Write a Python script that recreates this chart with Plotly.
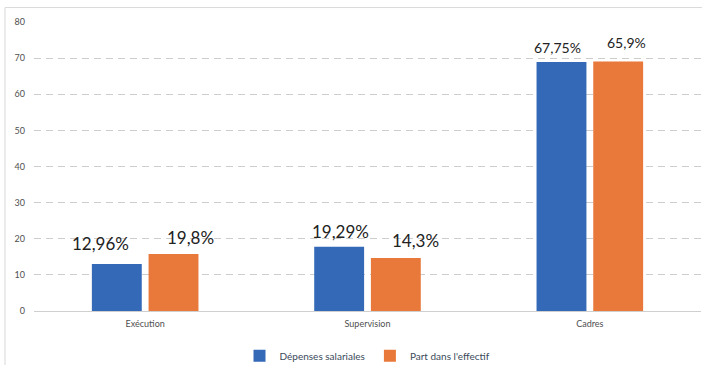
import plotly.graph_objects as go

categories = ["Exécution", "Supervision", "Cadres"]
series_names = ["Dépenses salariales", "Part dans l'effectif"]
depenses = [13.0, 17.8, 68.9]
effectif = [15.8, 14.7, 69.1]
depenses_labels = ["12,96%", "19,29%", "67,75%"]
effectif_labels = ["19,8%", "14,3%", "65,9%"]
y_ticks = [0, 10, 20, 30, 40, 50, 60, 70, 80]

colors = ["#3469b8", "#e8793a"]
font_family = "Lato, 'Open Sans', sans-serif"

fig = go.Figure()
fig.add_trace(go.Bar(x=categories, y=depenses, name=series_names[0],
                     marker=dict(color=colors[0], line=dict(width=0)),
                     offsetgroup="a"))
fig.add_trace(go.Bar(x=categories, y=effectif, name=series_names[1],
                     marker=dict(color=colors[1], line=dict(width=0)),
                     offsetgroup="b"))

# label placement (style)
dep_shift = [(-13, 21, 17), (5, 15, 17), (0, 15, 14)]
eff_shift = [(13, 16, 17), (16, 17, 17), (5, 19, 14)]
bar_offset_px = 32  # half distance between bar centers

annotations = []
for i, c in enumerate(categories):
    xs, ys, fs = dep_shift[i]
    annotations.append(dict(x=c, y=depenses[i], text=depenses_labels[i], showarrow=False,
                            xref="x", yref="y", xshift=-bar_offset_px + xs, yshift=ys,
                            font=dict(size=fs, color="#222222", family=font_family)))
    xs, ys, fs = eff_shift[i]
    annotations.append(dict(x=c, y=effectif[i], text=effectif_labels[i], showarrow=False,
                            xref="x", yref="y", xshift=bar_offset_px + xs, yshift=ys,
                            font=dict(size=fs, color="#222222", family=font_family)))

fig.update_layout(
    width=702, height=365,
    margin=dict(l=34, r=1, t=22, b=54, autoexpand=False),
    paper_bgcolor="white", plot_bgcolor="white",
    barmode="group", bargap=0.49, bargroupgap=0.12,
    font=dict(family=font_family, color="#595959", size=9),
    showlegend=True,
    legend=dict(orientation="h", x=0.5, xanchor="center", y=-0.105, yanchor="top",
                font=dict(size=10, color="#3a4a5a"), itemwidth=30,
                traceorder="normal", tracegroupgap=0),
    annotations=annotations,
    xaxis=dict(showgrid=False, showline=True, linecolor="#cfcfcf", linewidth=1,
               tickfont=dict(size=9, color="#4f4f4f"), ticks="", fixedrange=True,
               ticklabelstandoff=4),
    yaxis=dict(range=[0, 80], tickvals=y_ticks, showgrid=True, gridcolor="#cdcdcd",
               griddash="7px,5px", gridwidth=1, zeroline=False, showline=False,
               ticks="", ticklabelstandoff=8,
               tickfont=dict(size=9, color="#4f4f4f")),
    shapes=[dict(type="rect", xref="paper", yref="paper",
                 x0=-0.0435, x1=1.02, y0=-0.3, y1=1.05,
                 line=dict(color="#d9d9d9", width=1), fillcolor="rgba(0,0,0,0)",
                 layer="below")],
)

fig.write_html("out.html")
